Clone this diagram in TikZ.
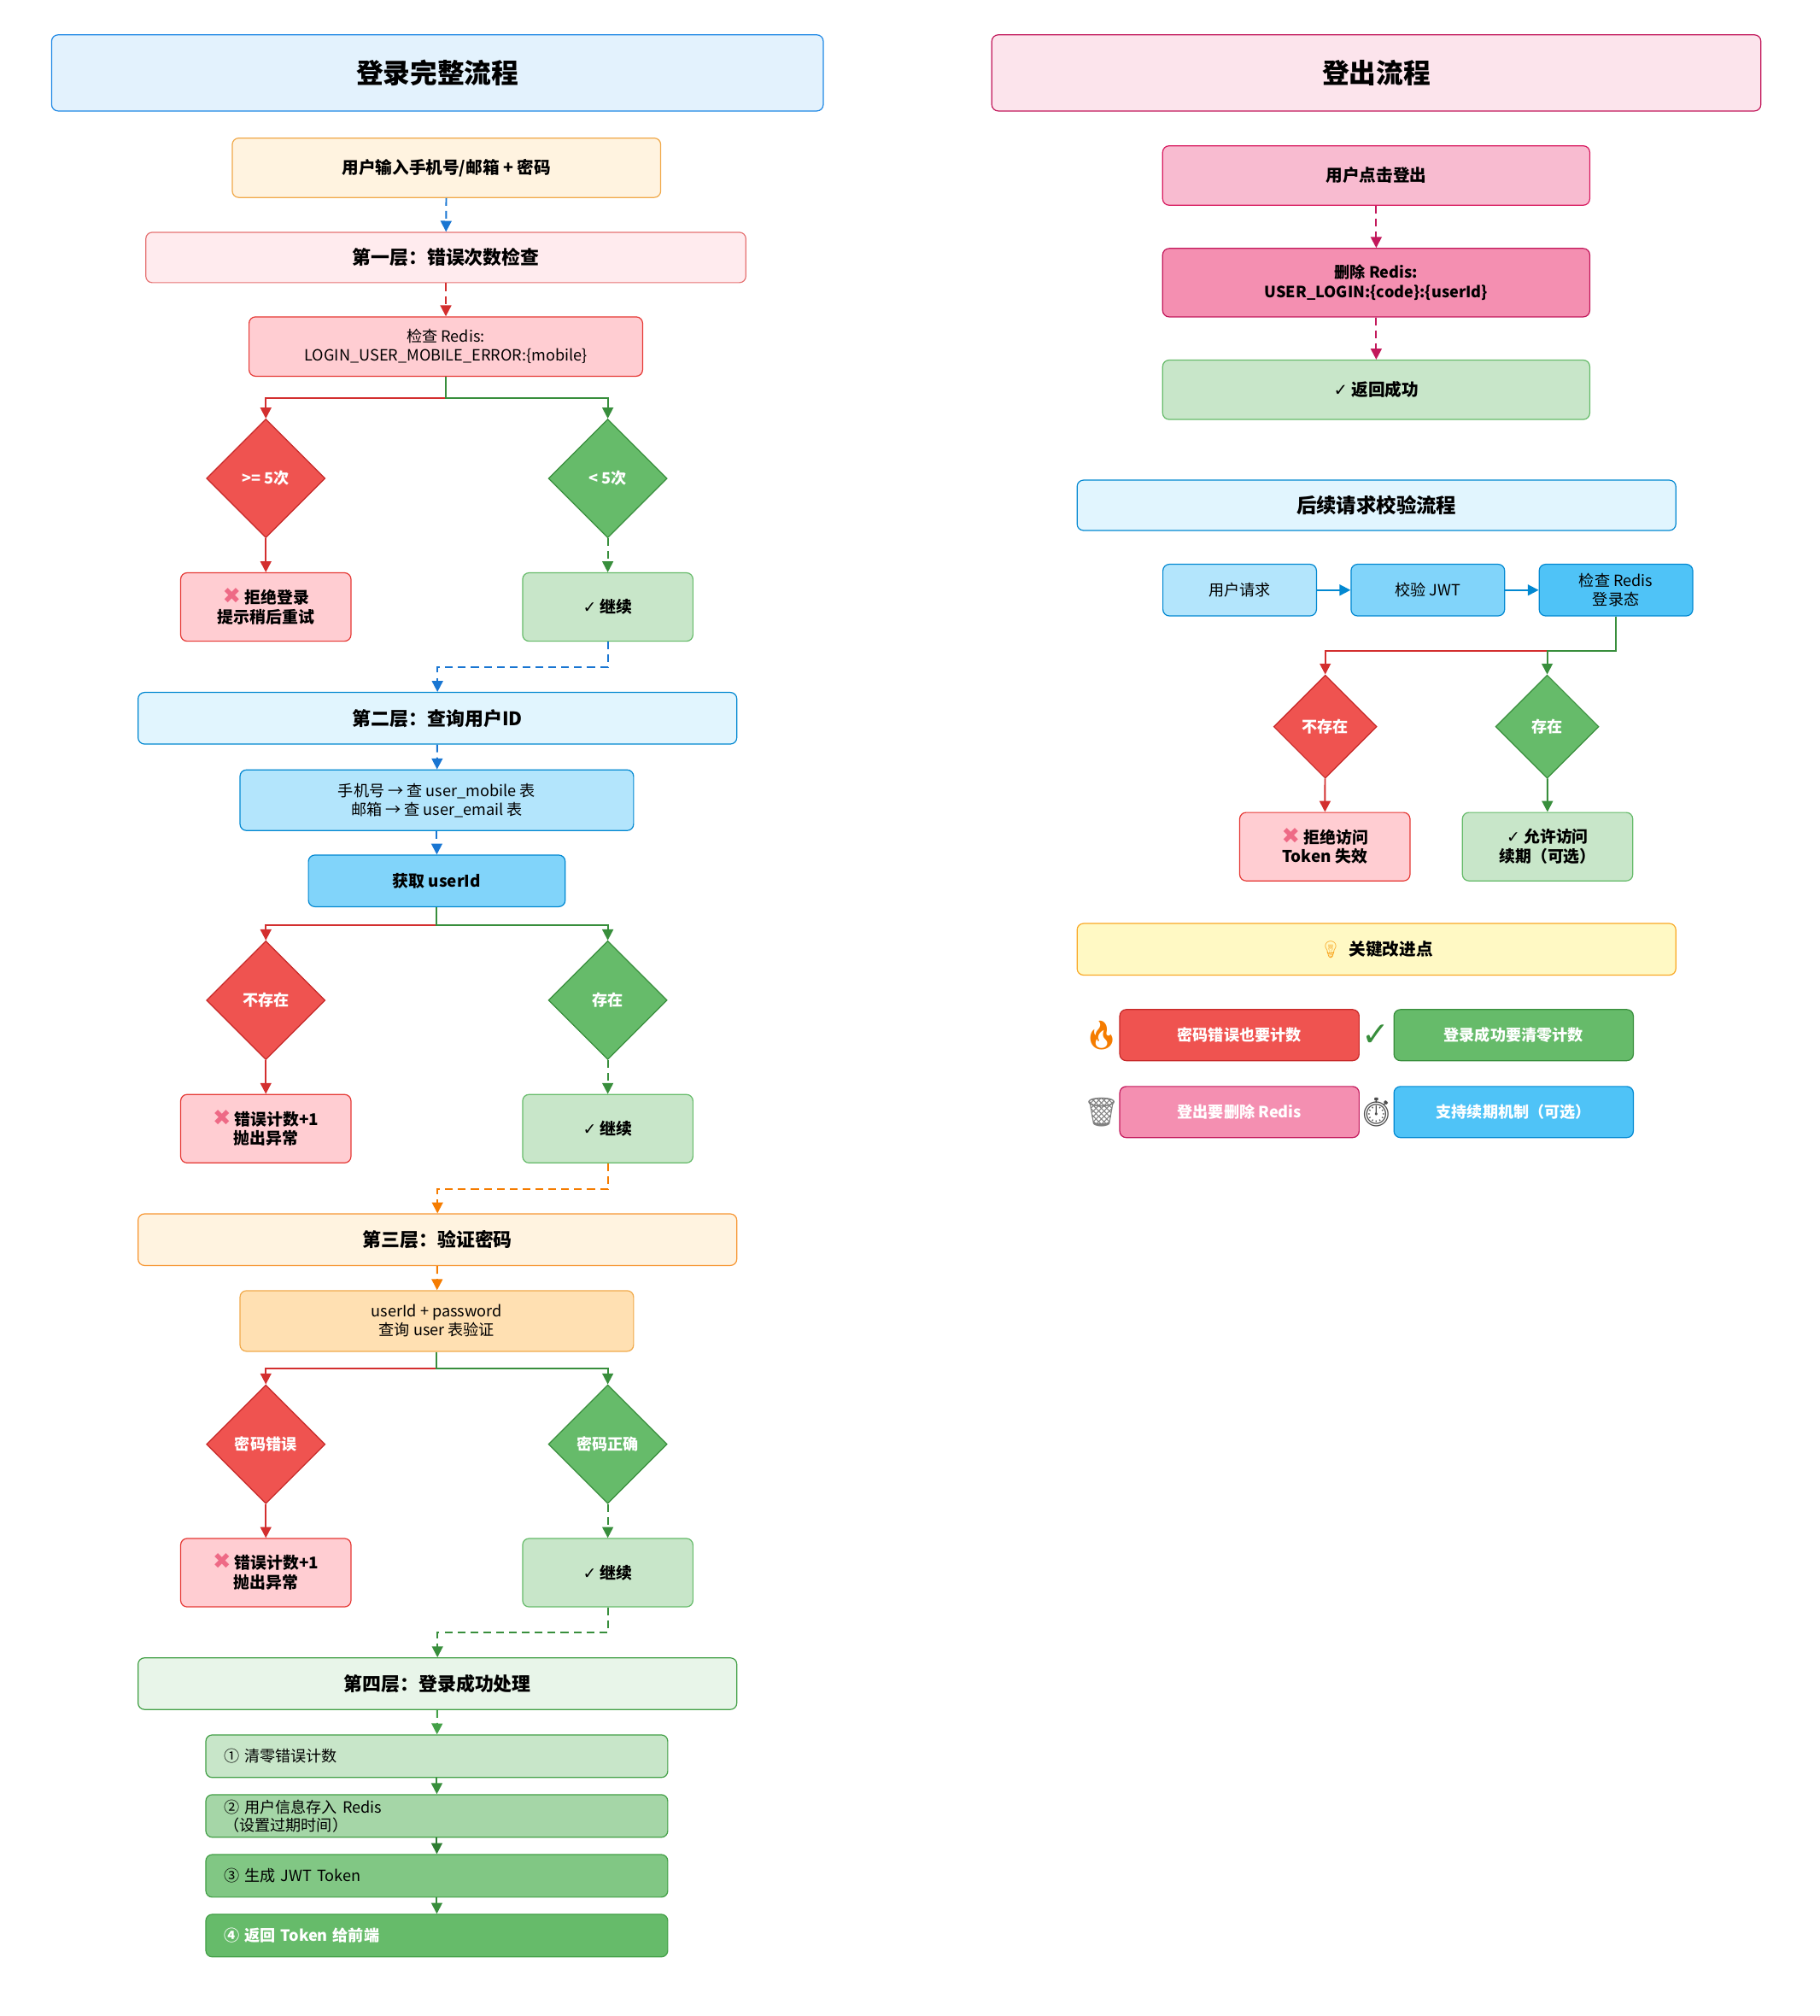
\documentclass[tikz,border=0pt]{standalone}
\usepackage{fontspec}
\setmainfont{Noto Sans CJK SC}
\newfontfamily\dejavu{DejaVu Sans}
\newfontfamily\emoji{Noto Emoji}
\usepackage{xcolor}
\usepackage{tikz}
\usetikzlibrary{arrows.meta,positioning,shapes.geometric}

\definecolor{blueA}{HTML}{E3F2FD}
\definecolor{blueB}{HTML}{1E88E5}
\definecolor{blueL}{HTML}{1976D2}
\definecolor{orgA}{HTML}{FFF3E0}
\definecolor{orgB}{HTML}{F0A94A}
\definecolor{orgC}{HTML}{FFE0B2}
\definecolor{orgL}{HTML}{F57C00}
\definecolor{redA}{HTML}{FFEBEE}
\definecolor{redB}{HTML}{E57373}
\definecolor{redC}{HTML}{FFCDD2}
\definecolor{redD}{HTML}{E53935}
\definecolor{redE}{HTML}{EF5350}
\definecolor{redF}{HTML}{C62828}
\definecolor{redL}{HTML}{D32F2F}
\definecolor{grnA}{HTML}{C8E6C9}
\definecolor{grnB}{HTML}{66BB6A}
\definecolor{grnC}{HTML}{43A047}
\definecolor{grnL}{HTML}{388E3C}
\definecolor{grnE}{HTML}{E8F5E9}
\definecolor{grnF}{HTML}{A5D6A7}
\definecolor{grnG}{HTML}{81C784}
\definecolor{grnH}{HTML}{2E7D32}
\definecolor{lblA}{HTML}{E1F5FE}
\definecolor{lblB}{HTML}{B3E5FC}
\definecolor{lblC}{HTML}{81D4FA}
\definecolor{lblD}{HTML}{4FC3F7}
\definecolor{lblE}{HTML}{0288D1}
\definecolor{pinkA}{HTML}{FCE4EC}
\definecolor{pinkB}{HTML}{C2185B}
\definecolor{pinkC}{HTML}{F8BBD0}
\definecolor{pinkD}{HTML}{F48FB1}
\definecolor{pinkE}{HTML}{D81B60}
\definecolor{yelA}{HTML}{FFF9C4}
\definecolor{yelB}{HTML}{F9A825}
\definecolor{xpink}{HTML}{EE6A86}

\newcommand{\xm}{\smash{\dejavu\fontsize{17}{17}\selectfont\color{xpink}✖}}
\newcommand{\ok}{{\dejavu ✓}}

\begin{document}
\begin{tikzpicture}[x=1pt, y=-1pt,
	box/.style={rectangle, rounded corners=5pt, draw, line width=0.8pt, inner sep=0pt, align=center},
	ttl/.style={box, minimum height=59pt, font=\fontsize{21}{25}\selectfont\bfseries},
	hdr/.style={box, minimum width=464pt, minimum height=40pt, font=\fontsize{14.5}{17}\selectfont\bfseries},
	txt/.style={box, font=\fontsize{12}{14.5}\selectfont},
	btxt/.style={box, font=\fontsize{12.5}{15}\selectfont\bfseries},
	res/.style={btxt, minimum width=132pt, minimum height=53pt},
	dec/.style={diamond, shape aspect=1, draw, line width=0.8pt, inner sep=0pt, minimum size=92pt, text=white, font=\fontsize{12}{14}\selectfont\bfseries},
	stepbox/.style={box, draw=grnC, text width=330pt, inner xsep=14pt, minimum height=33pt, align=left, font=\fontsize{12}{14}\selectfont},
	keybox/.style={box, minimum width=185.5pt, minimum height=39.6pt, text=white, font=\fontsize{12}{14}\selectfont\bfseries},
	ln/.style={line width=1.3pt, -{Triangle[length=8.5pt,width=8.5pt]}},
	dsh/.style={ln, dash pattern=on 6pt off 4pt}]
	\useasboundingbox (0,0) rectangle (1410,1562);
	% login
	\node[ttl, fill=blueA, draw=blueB, minimum width=598pt] (login) at (339,56.5) {登录完整流程};
	\node[btxt, fill=orgA, draw=orgB, minimum width=332pt, minimum height=46pt, font=\fontsize{13}{16}\selectfont\bfseries] (input) at (346,130) {用户输入手机号/邮箱 + 密码};
	% layer 1
	\node[hdr, fill=redA, draw=redB, minimum width=465pt, minimum height=39pt] (lay1) at (345.5,199.5) {第一层：错误次数检查};
	\node[txt, fill=redC, draw=redD, minimum width=305pt, minimum height=46pt] (errchk) at (345.5,268.5) {检查 Redis:\\LOGIN\_USER\_MOBILE\_ERROR:\{mobile\}};
	\node[dec, fill=redE, draw=redF] (many) at (206,370.7) {>= 5次};
	\node[dec, fill=grnB, draw=grnL] (few) at (471,370.7) {< 5次};
	\node[res, fill=redC, draw=redD] (reject) at (206,470.3) {\xm\ 拒绝登录\\提示稍后重试};
	\node[res, fill=grnA, draw=grnB] (go1) at (471,470.3) {\ok\ 继续};
	% layer 2
	\node[hdr, fill=lblA, draw=lblE] (lay2) at (339,556.5) {第二层：查询用户ID};
	\node[txt, fill=lblB, draw=lblE, minimum width=305pt, minimum height=47pt] (query) at (338.5,620) {手机号 → 查 user\_mobile 表\\邮箱 → 查 user\_email 表};
	\node[btxt, fill=lblC, draw=lblE, minimum width=199pt, minimum height=40pt] (uid) at (338.5,682.5) {获取 userId};
	\node[dec, fill=redE, draw=redF] (nouser) at (206,775) {不存在};
	\node[dec, fill=grnB, draw=grnL] (user) at (471,775) {存在};
	\node[res, fill=redC, draw=redD] (err2) at (206,874.5) {\xm\ 错误计数+1\\抛出异常};
	\node[res, fill=grnA, draw=grnB] (go2) at (471,874.5) {\ok\ 继续};
	% layer 3
	\node[hdr, fill=orgA, draw=orgL!80] (lay3) at (339,960.5) {第三层：验证密码};
	\node[txt, fill=orgC, draw=orgB, minimum width=305pt, minimum height=47pt] (pwd) at (338.5,1023.5) {userId + password\\查询 user 表验证};
	\node[dec, fill=redE, draw=redF] (badpwd) at (206,1119) {密码错误};
	\node[dec, fill=grnB, draw=grnL] (goodpwd) at (471,1119) {密码正确};
	\node[res, fill=redC, draw=redD] (err3) at (206,1218.5) {\xm\ 错误计数+1\\抛出异常};
	\node[res, fill=grnA, draw=grnB] (go3) at (471,1218.5) {\ok\ 继续};
	% layer 4
	\node[hdr, fill=grnE, draw=grnC] (lay4) at (339,1304.5) {第四层：登录成功处理};
	\node[stepbox, fill=grnA] (s1) at (338.5,1360.7) {① 清零错误计数};
	\node[stepbox, fill=grnF] (s2) at (338.5,1407) {② 用户信息存入 Redis\\（设置过期时间）};
	\node[stepbox, fill=grnG] (s3) at (338.5,1453.4) {③ 生成 JWT Token};
	\node[stepbox, fill=grnB, text=white, font=\fontsize{12}{14}\selectfont\bfseries] (s4) at (338.5,1499.7) {④ 返回 Token 给前端};
	% arrows left
	\draw[dsh, blueL] (input) -- (lay1);
	\draw[dsh, redL] (lay1) -- (errchk);
	\draw[ln, redL] (errchk.south) -- ++(0,16.3) -| (many.north);
	\draw[ln, grnL] (errchk.south) -- ++(0,16.3) -| (few.north);
	\draw[ln, redL] (many) -- (reject);
	\draw[dsh, grnL] (few) -- (go1);
	\draw[dsh, blueL] (go1.south) -- ++(0,20) -| (lay2.north);
	\draw[dsh, blueL] (lay2) -- (query);
	\draw[dsh, blueL] (query) -- (uid);
	\draw[ln, redL] (uid.south) -- ++(0,14) -| (nouser.north);
	\draw[ln, grnL] (uid.south) -- ++(0,14) -| (user.north);
	\draw[ln, redL] (nouser) -- (err2);
	\draw[dsh, grnL] (user) -- (go2);
	\draw[dsh, orgL] (go2.south) -- ++(0,20) -| (lay3.north);
	\draw[dsh, orgL] (lay3) -- (pwd);
	\draw[ln, redL] (pwd.south) -- ++(0,13) -| (badpwd.north);
	\draw[ln, grnL] (pwd.south) -- ++(0,13) -| (goodpwd.north);
	\draw[ln, redL] (badpwd) -- (err3);
	\draw[dsh, grnL] (goodpwd) -- (go3);
	\draw[dsh, grnL] (go3.south) -- ++(0,19.5) -| (lay4.north);
	\draw[dsh, grnC] (lay4) -- (s1);
	\draw[ln, grnL] (s1) -- (s2);
	\draw[ln, grnH] (s2) -- (s3);
	\draw[ln, grnL] (s3) -- (s4);
	% logout
	\node[ttl, fill=pinkA, draw=pinkB, minimum width=596pt] (logout) at (1066.6,56.5) {登出流程};
	\node[btxt, fill=pinkC, draw=pinkE, minimum width=331pt, minimum height=46pt, font=\fontsize{13}{16}\selectfont\bfseries] (click) at (1066.5,136) {用户点击登出};
	\node[btxt, fill=pinkD, draw=pinkB, minimum width=331pt, minimum height=53pt, font=\fontsize{12}{15}\selectfont\bfseries] (delkey) at (1066.5,219) {删除 Redis:\\USER\_LOGIN:\{code\}:\{userId\}};
	\node[btxt, fill=grnA, draw=grnB, minimum width=331pt, minimum height=46pt, font=\fontsize{13}{16}\selectfont\bfseries] (done) at (1066.5,302) {\ok\ 返回成功};
	\draw[dsh, pinkB] (click) -- (delkey);
	\draw[dsh, pinkB] (delkey) -- (done);
	% request check
	\node[hdr, fill=lblA, draw=lblE, minimum height=39pt, font=\fontsize{15.5}{18}\selectfont\bfseries] (later) at (1066.7,391.5) {后续请求校验流程};
	\node[txt, fill=lblB, draw=lblE, minimum width=119pt, minimum height=40pt] (req) at (960.7,457.2) {用户请求};
	\node[txt, fill=lblC, draw=lblE, minimum width=119pt, minimum height=40pt] (jwt) at (1106.5,457.2) {校验 JWT};
	\node[txt, fill=lblD, draw=lblE, minimum width=119pt, minimum height=40pt] (redis) at (1252.3,457.2) {检查 Redis\\登录态};
	\draw[ln, lblE] (req) -- (jwt);
	\draw[ln, lblE] (jwt) -- (redis);
	\node[dec, fill=redE, draw=redF, minimum size=80pt] (gone) at (1027,563) {不存在};
	\node[dec, fill=grnB, draw=grnL, minimum size=80pt] (there) at (1199,563) {存在};
	\draw[ln, redL] (redis.south) -- ++(0,26.5) -| (gone.north);
	\draw[ln, grnL] (redis.south) -- ++(0,26.5) -| (there.north);
	\node[res, fill=redC, draw=redD] (deny) at (1026.7,656) {\xm\ 拒绝访问\\Token 失效};
	\node[res, fill=grnA, draw=grnB] (allow) at (1199.3,656) {\ok\ 允许访问\\续期（可选）};
	\draw[ln, redL] (gone) -- (deny);
	\draw[ln, grnL] (there) -- (allow);
	% key points
	\node[hdr, fill=yelA, draw=yelB, font=\fontsize{13}{16}\selectfont\bfseries] (keyp) at (1066.7,735.5) {{\emoji\color{yelB}💡}\ \ 关键改进点};
	\node[keybox, fill=redE, draw=redF] (k1) at (960.5,802) {密码错误也要计数};
	\node[keybox, fill=grnB, draw=grnL] (k2) at (1173,802) {登录成功要清零计数};
	\node[keybox, fill=pinkD, draw=pinkB] (k3) at (960.5,861.6) {登出要删除 Redis};
	\node[keybox, fill=lblD, draw=lblE] (k4) at (1173,861.6) {支持续期机制（可选）};
	\node[font=\fontsize{22}{24}\selectfont, text=orgL] (fire) at (853.6,802) {\emoji 🔥};
	\node[font=\fontsize{26}{28}\selectfont, text=grnL] (tick) at (1066.5,802) {\dejavu ✓};
	\node[font=\fontsize{22}{24}\selectfont, text=gray] (bin) at (853.6,861.6) {\emoji 🗑};
	\node[font=\fontsize{22}{24}\selectfont, text=black!70] (watch) at (1066.5,861.6) {\emoji ⏱};
\end{tikzpicture}
\end{document}
